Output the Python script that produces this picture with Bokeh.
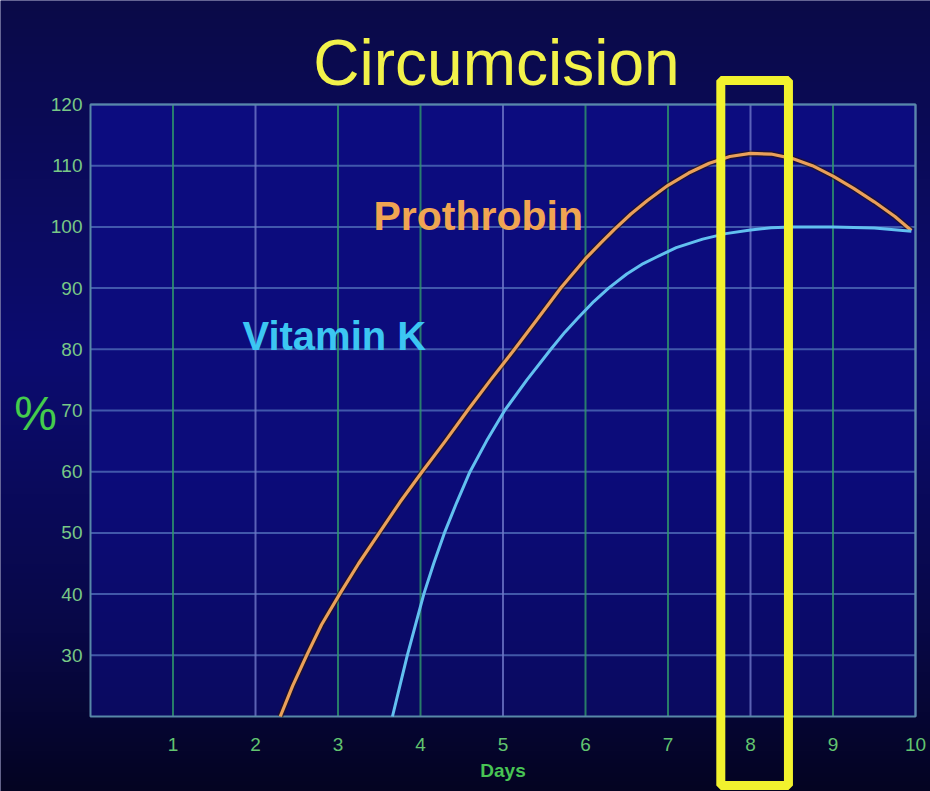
import numpy as np
from bokeh.plotting import figure
from bokeh.models import Range1d
from bokeh.core.properties import value
from bokeh.embed import file_html
from bokeh.resources import INLINE

# ---------------- data ----------------
title_text = "Circumcision"
x_ticks = [1, 2, 3, 4, 5, 6, 7, 8, 9, 10]
x_tick_labels = ["1", "2", "3", "4", "5", "6", "7", "8", "9", "10"]
y_ticks = [30, 40, 50, 60, 70, 80, 90, 100, 110, 120]
y_tick_labels = ["30", "40", "50", "60", "70", "80", "90", "100", "110", "120"]
x_label = "Days"
y_label = "%"

pro_name = "Prothrobin"
pro_days = [2.3, 2.45, 2.62, 2.8, 3.02, 3.25, 3.5, 3.75, 4.02, 4.3, 4.57, 4.85, 5.14, 5.42,
            5.7, 6.0, 6.18, 6.35, 6.55, 6.75, 7.0, 7.25, 7.5, 7.75, 8.0, 8.25, 8.5, 8.75,
            9.0, 9.25, 9.5, 9.75, 9.95]
pro_pct = [20, 25, 30, 35, 40, 45, 50, 55, 60, 65, 70, 75, 80, 85,
           90, 94.8, 97.3, 99.6, 102.1, 104.3, 106.8, 108.8, 110.4, 111.5, 112, 111.9, 111.2, 110,
           108.3, 106.3, 104.1, 101.7, 99.4]

vitk_name = "Vitamin K"
vitk_days = [3.66, 3.75, 3.84, 3.94, 4.04, 4.16, 4.29, 4.44, 4.6, 4.8, 5.02, 5.29, 5.58,
             5.75, 5.9, 6.1, 6.28, 6.5, 6.7, 6.85, 7.1, 7.42, 7.7, 8.0, 8.25, 8.5, 9.0,
             9.5, 9.95]
vitk_pct = [20, 25, 30, 35, 40, 45, 50, 55, 60, 65, 70, 75, 80,
            82.8, 85, 87.8, 90, 92.3, 94, 95, 96.6, 98, 98.9, 99.5, 99.85, 100, 100,
            99.8, 99.3]

highlight_days = [7.64, 8.46]   # the day-8 window

# ---------------- layout ----------------
W, H = 930, 791
X0, X1 = -1.0909, 10.1818
Y0, Y1 = 7.745, 136.99
XMIN, XMAX, YMIN, YMAX = 0, 10, 20, 120

p = figure(width=W, height=H, x_range=Range1d(X0, X1), y_range=Range1d(Y0, Y1),
           output_backend="svg", toolbar_location=None, min_border=0,
           x_axis_location=None, y_axis_location=None)
p.grid.visible = False
p.outline_line_color = None
p.background_fill_color = "#0a0a5c"
p.border_fill_color = "#0a0a5c"


def gradient(stops, n):
    """stops: list of (fraction_from_top, (r,g,b)); returns rows bottom-first."""
    fr = np.linspace(0, 1, n)
    ps = [s[0] for s in stops]
    cols = np.array([s[1] for s in stops], dtype=float)
    rgb = np.stack([np.interp(fr, ps, cols[:, k]) for k in range(3)], axis=1)
    rgb = rgb[::-1]
    img = np.empty((n, 2), dtype=np.uint32)
    v = img.view(dtype=np.uint8).reshape((n, 2, 4))
    for k in range(3):
        v[:, :, k] = rgb[:, k][:, None].astype(np.uint8)
    v[:, :, 3] = 255
    return img


bg = gradient([(0.0, (10, 10, 72)), (0.45, (12, 12, 112)), (0.8, (8, 8, 70)), (1.0, (4, 4, 34))], 400)
p.image_rgba(image=[bg], x=X0, y=Y0, dw=X1 - X0, dh=Y1 - Y0)
inner = gradient([(0.0, (13, 13, 128)), (0.6, (12, 12, 122)), (1.0, (10, 10, 96))], 300)
p.image_rgba(image=[inner], x=XMIN, y=YMIN, dw=XMAX - XMIN, dh=YMAX - YMIN)

# grid
p.segment(x0=XMIN, x1=XMAX, y0=y_ticks, y1=y_ticks, line_color="#4f6cb8", line_width=2, line_alpha=0.8)
pale = {2, 5, 8, 10}
vcols = ["#6f78c8" if t in pale else "#2f9a6a" for t in x_ticks]
p.segment(x0=x_ticks, x1=x_ticks, y0=YMIN, y1=YMAX, line_color=vcols, line_width=2, line_alpha=0.8)
p.quad(left=XMIN, right=XMAX, bottom=YMIN, top=YMAX, fill_color=None,
       line_color="#5888a8", line_width=2)

# curves
p.line(pro_days, pro_pct, line_color="#2a1408", line_width=6, line_alpha=0.6, line_join="round")
p.line(pro_days, pro_pct, line_color="#eaa05a", line_width=3.2, line_join="round")
p.line(vitk_days, vitk_pct, line_color="#62c0f0", line_width=3, line_join="round")

# highlight box
p.quad(left=highlight_days[0], right=highlight_days[1], bottom=8.73, top=123.9,
       fill_color=None, line_color="#f2f22e", line_width=9)

font = value("Liberation Sans")
# tick labels
p.text(x=XMIN, y=y_ticks, text=y_tick_labels, x_offset=-8, text_align="right",
       text_baseline="middle", text_font=font, text_font_size="19px", text_color="#78c886")
p.text(x=x_ticks, y=YMIN, text=x_tick_labels, y_offset=28, text_align="center",
       text_baseline="middle", text_font=font, text_font_size="19px", text_color="#62c470")
p.text(x=[5], y=[YMIN], text=[x_label], y_offset=54, text_align="center",
       text_baseline="middle", text_font=font, text_font_size="19px", text_font_style="bold",
       text_color="#48c454")
p.text(x=[-0.667], y=[69.5], text=[y_label], text_align="center", text_baseline="middle",
       text_font=font, text_font_size="48px", text_color="#44cc4c")

# series labels
p.text(x=[3.43], y=[101.86], text=[pro_name], text_align="left", text_baseline="alphabetic",
       text_font=font, text_font_size="41px", text_font_style="bold", text_color="#f0a552")
p.text(x=[1.842], y=[82.25], text=[vitk_name], text_align="left", text_baseline="alphabetic",
       text_font=font, text_font_size="40px", text_font_style="bold", text_color="#3cc6f2")

# title
p.text(x=[4.921], y=[126.7], text=[title_text], text_align="center", text_baseline="alphabetic",
       text_font=font, text_font_size="64px", text_color="#f2f24a")

open("out.html", "w").write(file_html(p, INLINE))
